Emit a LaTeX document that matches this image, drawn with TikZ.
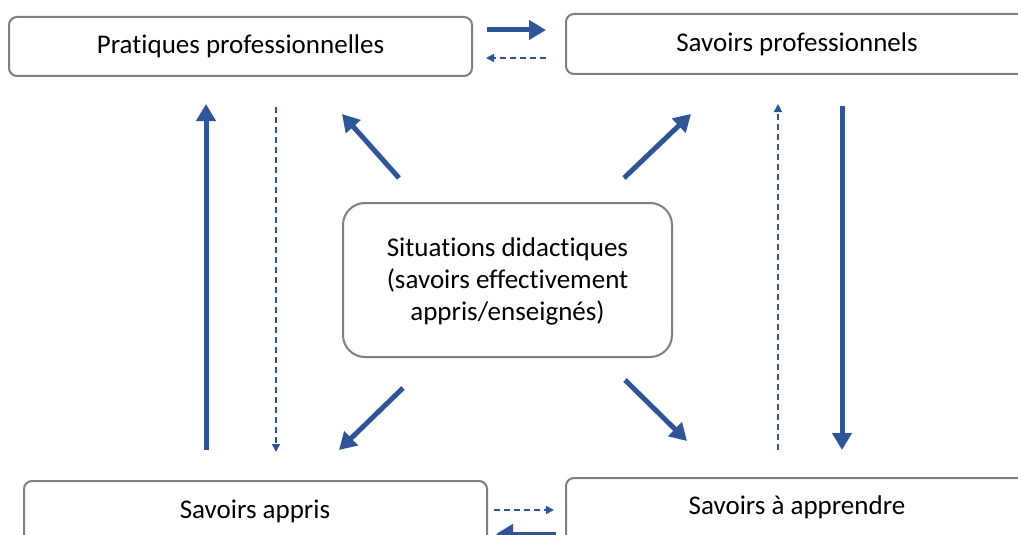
\documentclass[tikz,border=0pt]{standalone}
\usepackage{fontspec}
\setmainfont[Ligatures=NoCommon]{Carlito}
\usetikzlibrary{arrows.meta}
\definecolor{arrowblue}{HTML}{2F5597}
\definecolor{boxgray}{HTML}{7F7F7F}
\tikzset{
  box/.style={draw=boxgray, line width=2pt, rounded corners=8pt, fill=white},
  lbl/.style={font=\fontsize{27}{32}\selectfont, text=black, align=center},
  strong/.style={draw=arrowblue, line width=5pt, -{Triangle[length=17pt,width=19pt]}},
  weak/.style={draw=arrowblue, line width=1.5pt, dash pattern=on 6pt off 4pt, -{Triangle[length=8pt,width=8pt]}}
}
\begin{document}
\begin{tikzpicture}[x=1pt,y=-1pt]
\useasboundingbox (0,0) rectangle (1018,535);
\clip (0,0) rectangle (1018,535);
\fill[white] (0,0) rectangle (1018,535);
% boxes
\draw[box] (9,17) rectangle (472,76);
\draw[box] (566,14) rectangle (1030,74);
\draw[box, rounded corners=22pt] (343,203) rectangle (672,357);
\draw[box] (24,481) rectangle (487,560);
\draw[box] (566,478) rectangle (1030,560);
% labels
\node[lbl] (pp) at (240.5,46.5) {Pratiques professionnelles};
\node[lbl] (sp) at (797,44) {Savoirs professionnels};
\node[lbl] (sd) at (507.5,281) {Situations didactiques\\(savoirs effectivement\\appris/enseign\'es)};
\node[lbl] (sa) at (255,511) {Savoirs appris};
\node[lbl] (saa) at (797,507) {Savoirs \`a apprendre};
% coordinates
\coordinate (t1a) at (487,30);  \coordinate (t1b) at (546,30);
\coordinate (t2a) at (546,58);  \coordinate (t2b) at (486,58);
\coordinate (b1a) at (494,510); \coordinate (b1b) at (554,510);
\coordinate (b2a) at (556,534); \coordinate (b2b) at (496,534);
\coordinate (l1a) at (206,450); \coordinate (l1b) at (206,104);
\coordinate (l2a) at (276,107); \coordinate (l2b) at (276,452);
\coordinate (r1a) at (778,450); \coordinate (r1b) at (778,104);
\coordinate (r2a) at (842,106); \coordinate (r2b) at (842,450);
\coordinate (nwa) at (399,178); \coordinate (nwb) at (342,114);
\coordinate (nea) at (624,178); \coordinate (neb) at (691,114);
\coordinate (swa) at (403,388); \coordinate (swb) at (339,450);
\coordinate (sea) at (625,380); \coordinate (seb) at (687,441);
% arrows
\draw[strong] (t1a) -- (t1b);
\draw[weak] (t2a) -- (t2b);
\draw[weak] (b1a) -- (b1b);
\draw[strong] (b2a) -- (b2b);
\draw[strong] (l1a) -- (l1b);
\draw[weak] (l2a) -- (l2b);
\draw[weak] (r1a) -- (r1b);
\draw[strong] (r2a) -- (r2b);
\draw[strong] (nwa) -- (nwb);
\draw[strong] (nea) -- (neb);
\draw[strong] (swa) -- (swb);
\draw[strong] (sea) -- (seb);
\end{tikzpicture}
\end{document}
